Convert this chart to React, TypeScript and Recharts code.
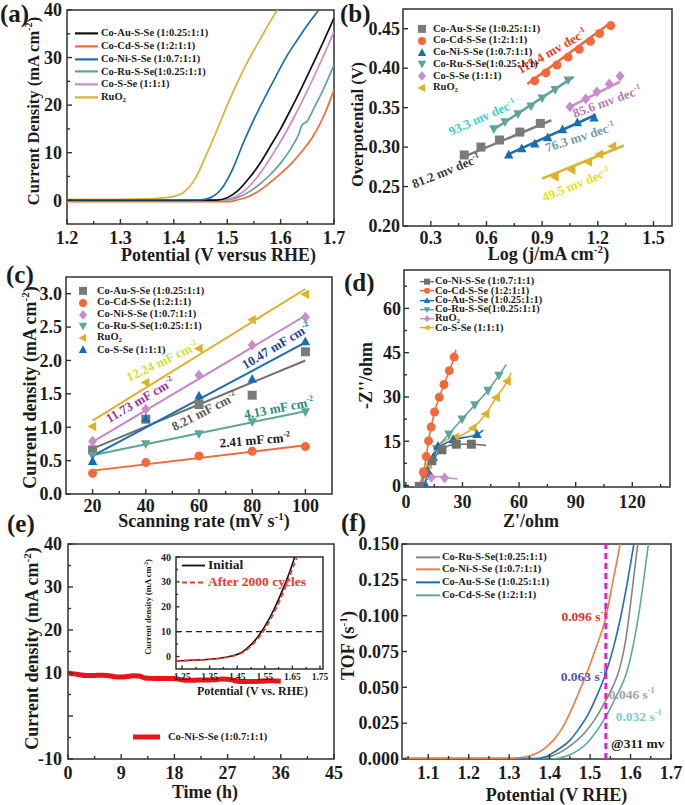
import React from 'react';
import { ComposedChart, Line, Scatter, XAxis, YAxis, ReferenceArea, ReferenceLine, ReferenceDot, Legend } from 'recharts';

const FONT = '"Liberation Serif", "Times New Roman", Times, serif';
const AXC = '#303030';
const TXT = '#1c1c1c';
const COL = {
  gold: '#dcb22a', blue: '#1b6db1', orange: '#f26a3b', teal: '#5ea597',
  pink: '#c98dcb', gray: '#7b7b7b', black: '#111111', red: '#e8151d',
};

// ---------------- (a) LSV ----------------
const aAuV = [1.2, 1.48, 1.5, 1.52, 1.54, 1.56, 1.58, 1.6, 1.62, 1.64, 1.66, 1.68, 1.7];
const aAuJ = [0, 0, 0.5, 2, 4.5, 7.5, 11.2, 15, 19.3, 23.8, 28.5, 33.3, 38.3];
const aCdV = [1.2, 1.5, 1.52, 1.54, 1.56, 1.58, 1.6, 1.62, 1.64, 1.66, 1.68, 1.69, 1.7];
const aCdJ = [-0.3, -0.3, 0.1, 0.8, 2, 3.7, 5.6, 7.7, 10.3, 13.3, 17.5, 20.2, 23.2];
const aNiV = [1.2, 1.45, 1.47, 1.49, 1.51, 1.53, 1.55, 1.57, 1.59, 1.61, 1.63, 1.65, 1.67, 1.69];
const aNiJ = [0.1, 0.1, 0.6, 2.5, 6.5, 12, 17, 21.5, 25.8, 30, 33.5, 36.8, 39.8, 43];
const aRuV = [1.2, 1.5, 1.52, 1.54, 1.56, 1.58, 1.6, 1.62, 1.635, 1.64, 1.65, 1.66, 1.68, 1.7];
const aRuJ = [0.1, 0.1, 0.6, 1.7, 3.3, 5.3, 7.8, 11, 14.2, 15.8, 16.6, 18.8, 23.3, 28.5];
const aSV = [1.2, 1.49, 1.51, 1.53, 1.55, 1.57, 1.59, 1.61, 1.63, 1.65, 1.67, 1.69, 1.7];
const aSJ = [0.1, 0.1, 0.5, 1.8, 4, 7, 10.5, 14.3, 18.5, 23, 27.8, 32.8, 35.5];
const aRuO2V = [1.2, 1.3, 1.35, 1.38, 1.4, 1.42, 1.44, 1.46, 1.48, 1.5, 1.52, 1.54, 1.56, 1.58, 1.6];
const aRuO2J = [0.2, 0.2, 0.3, 0.5, 0.8, 1.8, 4.5, 9.3, 14.5, 20, 25, 29.5, 33.5, 37.5, 41];
const aXMaj = [1.2, 1.3, 1.4, 1.5, 1.6, 1.7];
const aXMin = [1.25, 1.35, 1.45, 1.55, 1.65];
const aYMaj = [0, 10, 20, 30, 40];
const aYMin = [5, 15, 25, 35];

// ---------------- (b) Tafel ----------------
const bAuX = [0.48, 0.57, 0.67, 0.78, 0.89];
const bAuY = [0.29, 0.3, 0.309, 0.319, 0.33];
const bCdX = [0.86, 0.92, 0.98, 1.04, 1.1, 1.16, 1.21, 1.27];
const bCdY = [0.384, 0.394, 0.404, 0.414, 0.424, 0.434, 0.444, 0.454];
const bNiX = [0.72, 0.79, 0.86, 0.93, 1.01, 1.09, 1.18];
const bNiY = [0.29, 0.298, 0.304, 0.312, 0.322, 0.331, 0.337];
const bRuX = [0.64, 0.7, 0.77, 0.84, 0.9, 0.97, 1.04];
const bRuY = [0.323, 0.332, 0.342, 0.352, 0.362, 0.373, 0.385];
const bSX = [1.05, 1.135, 1.195, 1.262, 1.32];
const bSY = [0.351, 0.361, 0.37, 0.38, 0.39];
const bRuO2X = [0.97, 1.06, 1.15, 1.21, 1.28];
const bRuO2Y = [0.262, 0.271, 0.281, 0.291, 0.301];
const bFitAuX = [0.48, 0.95]; const bFitAuY = [0.288, 0.334];
const bFitCdX = [0.82, 1.27]; const bFitCdY = [0.38, 0.458];
const bFitNiX = [0.71, 1.19]; const bFitNiY = [0.29, 0.341];
const bFitRuX = [0.63, 1.07]; const bFitRuY = [0.321, 0.389];
const bFitSX = [1.05, 1.32]; const bFitSY = [0.351, 0.383];
const bFitRuO2X = [0.9, 1.34]; const bFitRuO2Y = [0.26, 0.302];
const bAnnText = ['115.4 mv dec', '93.3 mv dec', '85.6 mv dec', '76.3 mv dec', '81.2 mv dec', '49.5 mv dec'];
const bAnnX = [0.953, 0.576, 1.25, 1.104, 0.382, 1.083];
const bAnnY = [0.422, 0.338, 0.358, 0.313, 0.27, 0.253];
const bXMaj = [0.3, 0.6, 0.9, 1.2, 1.5];
const bXMin = [0.45, 0.75, 1.05, 1.35];
const bYMaj = [0.2, 0.25, 0.3, 0.35, 0.4, 0.45];

// ---------------- (c) Cdl ----------------
const cX = [20, 40, 60, 80, 100];
const cAu = [0.66, 1.12, 1.34, 1.48, 2.13];
const cCd = [0.31, 0.47, 0.57, 0.64, 0.71];
const cNi = [0.79, 1.27, 1.78, 2.23, 2.65];
const cRu = [0.57, 0.75, 0.9, 1.08, 1.23];
const cRuO2 = [1.01, 1.67, 2.18, 2.61, 2.99];
const cS = [0.49, 1.13, 1.47, 1.72, 2.28];
const cFitX = [20, 100];
const cFitAu = [0.68, 2.0];
const cFitCd = [0.35, 0.73];
const cFitNi = [0.78, 2.67];
const cFitRu = [0.58, 1.24];
const cFitRuO2 = [1.1, 3.07];
const cFitS = [0.57, 2.27];
const cAnnText = ['12.24 mF cm', '11.73 mF cm', '10.47 mF cm', '8.21 mF cm', '4.13 mF cm', '2.41 mF cm'];
const cAnnX = [46.1, 37.8, 89, 61.9, 90, 81];
const cAnnY = [1.99, 1.41, 2.22, 1.24, 1.29, 0.81];
const cXMaj = [20, 40, 60, 80, 100];
const cXMin = [30, 50, 70, 90];
const cYMaj = [0, 0.5, 1, 1.5, 2, 2.5, 3];

// ---------------- (d) Nyquist ----------------
const dNiLX = [7.1, 8.5, 10.2, 13.8, 19.1, 26.7, 34.7, 42.5];
const dNiLY = [-0.4, 2.2, 4.5, 8.4, 12.1, 14.0, 14.0, 13.6];
const dNiPX = [7.1, 10.2, 13.8, 19.1, 26.7, 34.7];
const dNiPY = [-0.3, 4.5, 8.4, 12.1, 14.0, 14.0];
const dCdLX = [7.2, 9.3, 10.8, 12.0, 13.4, 15.2, 17.7, 20.2, 23.0, 25.6, 26.5];
const dCdLY = [-0.4, 4.5, 9.8, 15.1, 19.8, 24.9, 29.9, 34.2, 38.9, 43.5, 46];
const dCdPX = [9.3, 10.8, 12.0, 13.4, 15.2, 17.7, 20.2, 23.0, 25.6];
const dCdPY = [4.5, 9.8, 15.1, 19.8, 24.9, 29.9, 34.2, 38.9, 43.5];
const dAuLX = [9, 10.5, 11.5, 14.5, 17, 21, 25.1, 31, 37.7, 41];
const dAuLY = [-0.4, 1.5, 5.0, 9.5, 12.5, 14.3, 15.5, 16.3, 17.3, 18.8];
const dAuPX = [10.5, 11.5, 14.5, 17.0, 25.1, 37.7];
const dAuPY = [0, 5.0, 9.5, 13.3, 15.5, 17.3];
const dRuLX = [8, 10, 12.5, 16.3, 22.8, 29.8, 36.5, 43.5, 49.3, 53.2];
const dRuLY = [-0.4, 3.5, 8, 12.4, 17.4, 22.5, 27.3, 32.2, 37.3, 41];
const dRuPX = [16.3, 22.8, 29.8, 36.5, 43.5, 49.3];
const dRuPY = [12.4, 17.4, 22.5, 27.3, 32.2, 37.3];
const dSLX = [8, 10, 12, 15, 20, 26.2, 31, 35.6, 42.3, 47.9, 53.7, 55.8];
const dSLY = [-0.4, 3.5, 7, 11.5, 15, 16.4, 17.5, 19.5, 24.2, 29.8, 35.3, 38.2];
const dSPX = [12, 26.2, 35.6, 42.3, 47.9, 53.7];
const dSPY = [7, 16.4, 19.5, 24.2, 29.8, 35.3];
const dRuO2LX = [7.5, 9.5, 12, 15, 18, 21, 25, 27.5];
const dRuO2LY = [-0.4, 1.2, 2.4, 3.0, 3.0, 2.7, 2.4, 2.3];
const dRuO2PX = [8.5, 13.5, 20.5];
const dRuO2PY = [0, 2.8, 2.6];
const dXMaj = [0, 30, 60, 90, 120];
const dXMin = [15, 45, 75, 105, 135];
const dYMaj = [0, 15, 30, 45, 60];
const dYMin = [7.5, 22.5, 37.5, 52.5, 67.5];

// ---------------- (e) stability ----------------
const eT = [0, 1, 2, 3, 4, 5, 6, 7, 8, 9, 10, 11, 12, 13, 14, 15, 16, 17, 18, 19, 20, 21, 22, 23, 24, 25, 26, 27, 28, 29, 30, 31, 32, 33, 34, 35, 36];
const eJ = [10, 9.8, 9.6, 9.4, 9.4, 9.45, 9.45, 9.35, 9.1, 9.05, 9.2, 9.35, 9.3, 8.85, 8.75, 8.7, 8.7, 8.75, 8.7, 8.5, 8.3, 8.3, 8.35, 8.35, 8.4, 8.45, 8.6, 8.55, 8.3, 8.05, 8.0, 8.0, 8.05, 8.1, 8.2, 8.15, 8.1];
const eXMaj = [0, 9, 18, 27, 36, 45];
const eXMin = [4.5, 13.5, 22.5, 31.5, 40.5];
const eYMaj = [-10, 0, 10, 20, 30, 40];
const eYMin = [-5, 5, 15, 25, 35];
const iInitV = [1.228, 1.3, 1.38, 1.43, 1.46, 1.48, 1.5, 1.52, 1.54, 1.56, 1.58, 1.6, 1.62, 1.64, 1.66];
const iInitJ = [-1.8, -1.4, -0.8, 0.2, 1.3, 2.8, 4.8, 7.3, 10.3, 14, 18.2, 23, 28.3, 34, 40.5];
const iAftV = [1.228, 1.3, 1.38, 1.43, 1.46, 1.48, 1.5, 1.52, 1.54, 1.56, 1.58, 1.6, 1.62, 1.64, 1.66, 1.675];
const iAftJ = [-1.8, -1.4, -0.8, 0.1, 1.1, 2.4, 4.2, 6.5, 9.3, 12.8, 16.8, 21.4, 26.5, 32, 38, 42];
const iXMaj = [1.25, 1.35, 1.45, 1.55, 1.65, 1.75];
const iXMin = [1.3, 1.4, 1.5, 1.6, 1.7];
const iYMaj = [0, 10, 20, 30, 40];
const iYMin = [5, 15, 25, 35];

// ---------------- (f) TOF ----------------
const fNiV = [1.035, 1.3, 1.335, 1.368, 1.39, 1.409, 1.43, 1.45, 1.47, 1.492, 1.515, 1.539, 1.557, 1.574, 1.582];
const fNiT = [0.0005, 0.0005, 0.0012, 0.004, 0.008, 0.013, 0.021, 0.032, 0.045, 0.06, 0.078, 0.099, 0.125, 0.15, 0.165];
const fAuV = [1.035, 1.36, 1.393, 1.42, 1.45, 1.472, 1.492, 1.515, 1.539, 1.557, 1.574, 1.59, 1.607, 1.615];
const fAuT = [0, 0, 0.002, 0.0065, 0.013, 0.021, 0.0295, 0.043, 0.06, 0.077, 0.097, 0.12, 0.148, 0.162];
const fRuV = [1.035, 1.37, 1.409, 1.45, 1.492, 1.515, 1.539, 1.557, 1.574, 1.588, 1.599, 1.608, 1.617, 1.625];
const fRuT = [0.0005, 0.0005, 0.0025, 0.009, 0.02, 0.029, 0.041, 0.051, 0.064, 0.083, 0.106, 0.127, 0.148, 0.165];
const fCdV = [1.035, 1.4, 1.45, 1.492, 1.515, 1.539, 1.565, 1.59, 1.607, 1.623, 1.634, 1.644, 1.65];
const fCdT = [0, 0, 0.003, 0.011, 0.019, 0.0295, 0.044, 0.06, 0.08, 0.106, 0.128, 0.15, 0.165];
const fMark = 1.539;
const fAnnText = ['0.096 s', '0.063 s', '0.046 s', '0.032 s', '@311 mv'];
const fAnnX = [1.486, 1.484, 1.603, 1.62, 1.618];
const fAnnY = [0.0998, 0.058, 0.0454, 0.03, 0.011];
const fXMaj = [1.1, 1.2, 1.3, 1.4, 1.5, 1.6, 1.7];
const fXMin = [1.05, 1.15, 1.25, 1.35, 1.45, 1.55, 1.65];
const fYMaj = [0, 0.025, 0.05, 0.075, 0.1, 0.125, 0.15];

// ---------------- helpers ----------------
const zip = (xs: number[], ys: number[]) => xs.map((x, i) => ({ x, y: ys[i] }));
const near = (v: number, arr: number[]) => arr.some((m) => Math.abs(m - v) < 1e-9);
const allTicks = (a: number[], b: number[]) => [...a, ...b].sort((p, q) => p - q);

function supText(parts: string[], fs: number) {
  const [a, s, b] = parts;
  const up = fs * 0.4;
  const out: any[] = [<tspan key="a">{a}</tspan>];
  if (s) out.push(<tspan key="s" dy={-up} fontSize={fs * 0.62}>{s}</tspan>);
  if (s && b !== undefined) out.push(<tspan key="b" dy={up}>{b}</tspan>);
  return out;
}

function XTk(props: any) {
  const { x, y, payload, cfg } = props;
  const v = payload ? payload.value : 0;
  const major = near(v, cfg.major);
  return (
    <g>
      <line x1={x} x2={x} y1={y} y2={y - (major ? cfg.len : cfg.mlen)} stroke={AXC} strokeWidth={1.4} />
      {major && !near(v, cfg.hide || []) ? (
        <text x={x} y={y + cfg.gap + cfg.fs * 0.35} textAnchor="middle" fontFamily={FONT} fontWeight="bold" fontSize={cfg.fs} fill={TXT}>
          {cfg.fmt(v)}
        </text>
      ) : null}
    </g>
  );
}

function YTk(props: any) {
  const { x, y, payload, cfg } = props;
  const v = payload ? payload.value : 0;
  const major = near(v, cfg.major);
  return (
    <g>
      <line x1={x} x2={x + (major ? cfg.len : cfg.mlen)} y1={y} y2={y} stroke={AXC} strokeWidth={1.4} />
      {major && !near(v, cfg.hide || []) ? (
        <text x={x - cfg.gap} y={y + cfg.fs * 0.35} textAnchor="end" fontFamily={FONT} fontWeight="bold" fontSize={cfg.fs} fill={TXT}>
          {cfg.fmt(v)}
        </text>
      ) : null}
    </g>
  );
}

const xTitle = (parts: string[], dx: number, dy: number, fs: number) => (p: any) => {
  const vb = p.viewBox || { x: 0, y: 0, width: 0, height: 0 };
  const cx = vb.x + vb.width / 2 + dx;
  const cy = vb.y + dy;
  return (
    <text x={cx} y={cy + fs * 0.35} textAnchor="middle" fontFamily={FONT} fontWeight="bold" fontSize={fs} fill={TXT}>
      {supText(parts, fs)}
    </text>
  );
};

const yTitle = (parts: string[], x: number, dy: number, fs: number) => (p: any) => {
  const vb = p.viewBox || { x: 0, y: 0, width: 0, height: 0 };
  const cy = vb.y + vb.height / 2 + dy;
  return (
    <text transform={`translate(${x},${cy}) rotate(-90)`} x={0} y={fs * 0.35} textAnchor="middle" fontFamily={FONT} fontWeight="bold" fontSize={fs} fill={TXT}>
      {supText(parts, fs)}
    </text>
  );
};

const annot = (parts: string[], color: string, angle: number, fs: number) => (p: any) => {
  const vb = p.viewBox || { x: 0, y: 0, width: 0, height: 0 };
  const cx = vb.x + (vb.width || 0) / 2;
  const cy = vb.y + (vb.height || 0) / 2;
  return (
    <text x={cx} y={cy + fs * 0.35} transform={`rotate(${angle} ${cx} ${cy})`} textAnchor="middle" fontFamily={FONT} fontWeight="bold" fontSize={fs} fill={color}>
      {supText(parts, fs)}
    </text>
  );
};

const mk = (kind: string, color: string, size: number) => (p: any) => {
  const cx = p.cx, cy = p.cy, s = size / 2;
  if (cx == null || cy == null) return <g />;
  switch (kind) {
    case 'sq': return <rect x={cx - s} y={cy - s} width={size} height={size} fill={color} />;
    case 'ci': return <circle cx={cx} cy={cy} r={s} fill={color} />;
    case 'tu': return <polygon points={`${cx},${cy - s * 1.15} ${cx + s * 1.05},${cy + s * 0.8} ${cx - s * 1.05},${cy + s * 0.8}`} fill={color} />;
    case 'td': return <polygon points={`${cx},${cy + s * 1.15} ${cx + s * 1.05},${cy - s * 0.8} ${cx - s * 1.05},${cy - s * 0.8}`} fill={color} />;
    case 'tl': return <polygon points={`${cx - s * 1.15},${cy} ${cx + s * 0.8},${cy - s * 1.05} ${cx + s * 0.8},${cy + s * 1.05}`} fill={color} />;
    default: return <polygon points={`${cx},${cy - s * 1.2} ${cx + s},${cy} ${cx},${cy + s * 1.2} ${cx - s},${cy}`} fill={color} />;
  }
};

function Leg({ items, o }: any) {
  return (
    <div style={{ fontFamily: FONT, fontWeight: 700, fontSize: o.fs, color: TXT }}>
      {items.map((it: any, i: number) => (
        <div key={i} style={{ display: 'flex', alignItems: 'center', height: o.rowH, whiteSpace: 'nowrap' }}>
          <svg width={o.sw} height={o.rowH} style={{ flex: 'none', overflow: 'visible' }}>
            {it.kind !== 'marker' ? (
              <line x1={0} x2={o.sw} y1={o.rowH / 2} y2={o.rowH / 2} stroke={it.color} strokeWidth={o.lw} strokeDasharray={it.dash} />
            ) : null}
            {it.kind !== 'line' ? mk(it.shape, it.color, o.mk)({ cx: o.sw / 2, cy: o.rowH / 2 }) : null}
          </svg>
          <span style={{ marginLeft: o.gap, color: it.tc || TXT, lineHeight: 1 }}>{it.label}</span>
        </div>
      ))}
    </div>
  );
}

const legendEl = (items: any[], o: any, left: number, top: number) => (
  <Legend
    layout="vertical"
    align="center"
    verticalAlign="middle"
    wrapperStyle={{ left, top, width: 'auto', height: 'auto' }}
    content={() => <Leg items={items} o={o} />}
  />
);

const sub2 = (t: string) => (<span>{t}<sub style={{ fontSize: '0.65em', verticalAlign: '-0.25em' }}>2</sub></span>);

const frame = (xd: number[], yd: number[]) => (
  <ReferenceArea x1={xd[0]} x2={xd[1]} y1={yd[0]} y2={yd[1]} fill="none" stroke={AXC} strokeWidth={1.5} ifOverflow="visible" />
);

const axisCommon = { type: 'number' as const, allowDataOverflow: true, interval: 0 as const, tickLine: false, axisLine: false, tickSize: 0, tickMargin: 0 };

// ---------------- panels ----------------
function PanelA() {
  const xd = [1.2, 1.7], yd = [-5, 40];
  const series = [
    { v: aRuO2V, j: aRuO2J, c: COL.gold },
    { v: aCdV, j: aCdJ, c: COL.orange },
    { v: aRuV, j: aRuJ, c: COL.teal },
    { v: aSV, j: aSJ, c: COL.pink },
    { v: aAuV, j: aAuJ, c: COL.black },
    { v: aNiV, j: aNiJ, c: COL.blue },
  ];
  const leg = [
    { label: 'Co-Au-S-Se (1:0.25:1:1)', color: COL.black, kind: 'line' },
    { label: 'Co-Cd-S-Se (1:2:1:1)', color: COL.orange, kind: 'line' },
    { label: 'Co-Ni-S-Se (1:0.7:1:1)', color: COL.blue, kind: 'line' },
    { label: 'Co-Ru-S-Se(1:0.25:1:1)', color: COL.teal, kind: 'line' },
    { label: 'Co-S-Se (1:1:1)', color: COL.pink, kind: 'line' },
    { label: sub2('RuO'), color: COL.gold, kind: 'line' },
  ];
  return (
    <ComposedChart width={345} height={272} margin={{ top: 10, right: 11, bottom: 0, left: 0 }}>
      <XAxis {...axisCommon} dataKey="x" domain={xd} ticks={allTicks(aXMaj, aXMin)} height={48}
        tick={<XTk cfg={{ major: aXMaj, fmt: (v: number) => v.toFixed(1), fs: 18, gap: 14, len: 5, mlen: 3 }} />}
        label={xTitle(['Potential (V versus RHE)'], 18, 31, 18)} />
      <YAxis {...axisCommon} dataKey="y" domain={yd} ticks={allTicks(aYMaj, aYMin)} width={67}
        tick={<YTk cfg={{ major: aYMaj, fmt: (v: number) => String(v), fs: 18, gap: 5, len: 5, mlen: 3 }} />}
        label={yTitle(['Current Density (mA cm', '-2', ')'], 33, -6, 16.5)} />
      {frame(xd, yd)}
      {series.map((s, i) => (
        <Line key={i} data={zip(s.v, s.j)} dataKey="y" type="monotone" stroke={s.c} strokeWidth={1.7} dot={false} isAnimationActive={false} />
      ))}
      {legendEl(leg, { fs: 10.5, rowH: 12.8, sw: 23, lw: 2.2, gap: 3 }, 75, 27)}
    </ComposedChart>
  );
}

function PanelB() {
  const xd = [0.15, 1.6], yd = [0.2, 0.475];
  const pts = [
    { x: bAuX, y: bAuY, c: COL.gray, s: 'sq', fx: bFitAuX, fy: bFitAuY },
    { x: bCdX, y: bCdY, c: COL.orange, s: 'ci', fx: bFitCdX, fy: bFitCdY },
    { x: bNiX, y: bNiY, c: COL.blue, s: 'tu', fx: bFitNiX, fy: bFitNiY },
    { x: bRuX, y: bRuY, c: COL.teal, s: 'td', fx: bFitRuX, fy: bFitRuY },
    { x: bSX, y: bSY, c: COL.pink, s: 'di', fx: bFitSX, fy: bFitSY },
    { x: bRuO2X, y: bRuO2Y, c: COL.gold, s: 'tl', fx: bFitRuO2X, fy: bFitRuO2Y },
  ];
  const annC = ['#f03a24', '#3fcfd6', '#b67bb6', '#6f9fa6', '#3a3a3a', '#e3e01c'];
  const annA = [-30, -24, -20, -18, -22, -22];
  const leg = [
    { label: 'Co-Au-S-Se (1:0.25:1:1)', color: COL.gray, kind: 'marker', shape: 'sq' },
    { label: 'Co-Cd-S-Se (1:2:1:1)', color: COL.orange, kind: 'marker', shape: 'ci' },
    { label: 'Co-Ni-S-Se (1:0.7:1:1)', color: COL.blue, kind: 'marker', shape: 'tu' },
    { label: 'Co-Ru-S-Se(1:0.25:1:1)', color: COL.teal, kind: 'marker', shape: 'td' },
    { label: 'Co-S-Se (1:1:1)', color: COL.pink, kind: 'marker', shape: 'di' },
    { label: sub2('RuO'), color: COL.gold, kind: 'marker', shape: 'tl' },
  ];
  return (
    <ComposedChart width={355} height={272} margin={{ top: 9, right: 13, bottom: 0, left: 0 }}>
      <XAxis {...axisCommon} dataKey="x" domain={xd} ticks={allTicks(bXMaj, bXMin)} height={46}
        tick={<XTk cfg={{ major: bXMaj, fmt: (v: number) => v.toFixed(1), fs: 18, gap: 12, len: 5, mlen: 3 }} />}
        label={xTitle(['Log (j/mA cm', '-2', ')'], 11, 28, 18)} />
      <YAxis {...axisCommon} dataKey="y" domain={yd} ticks={bYMaj} width={73}
        tick={<YTk cfg={{ major: bYMaj, fmt: (v: number) => v.toFixed(2), fs: 18, gap: 3, len: 5, mlen: 3 }} />}
        label={yTitle(['Overpotential (V)'], 27, 7, 16.5)} />
      {frame(xd, yd)}
      {pts.map((s, i) => (
        <Line key={'l' + i} data={zip(s.fx, s.fy)} dataKey="y" type="linear" stroke={s.c} strokeWidth={2.5} dot={false} isAnimationActive={false} />
      ))}
      {pts.map((s, i) => (
        <Scatter key={'s' + i} data={zip(s.x, s.y)} shape={mk(s.s, s.c, 9)} isAnimationActive={false} />
      ))}
      {bAnnText.map((t, i) => (
        <ReferenceDot key={'a' + i} x={bAnnX[i]} y={bAnnY[i]} r={1} fill="none" stroke="none" ifOverflow="visible"
          label={annot([t, '-1'], annC[i], annA[i], 13)} />
      ))}
      {legendEl(leg, { fs: 10.5, rowH: 11.8, sw: 12, mk: 8, lw: 2, gap: 5 }, 86, 23)}
    </ComposedChart>
  );
}

function PanelC() {
  const xd = [10, 110], yd = [0, 3.25];
  const pts = [
    { y: cAu, c: COL.gray, s: 'sq', f: cFitAu, lc: '#6e6e6e' },
    { y: cCd, c: COL.orange, s: 'ci', f: cFitCd, lc: COL.orange },
    { y: cNi, c: COL.pink, s: 'di', f: cFitNi, lc: '#c48ac6' },
    { y: cRu, c: COL.teal, s: 'td', f: cFitRu, lc: COL.teal },
    { y: cRuO2, c: COL.gold, s: 'tl', f: cFitRuO2, lc: COL.gold },
    { y: cS, c: COL.blue, s: 'tu', f: cFitS, lc: COL.blue },
  ];
  const annC = ['#cfe02a', '#a3319f', '#1b3f9e', '#5a5a5a', '#2b8a7b', '#1a1a1a'];
  const annA = [-25.5, -30.6, -31, -27, -11, -5];
  const leg = [
    { label: 'Co-Au-S-Se (1:0.25:1:1)', color: COL.gray, kind: 'marker', shape: 'sq' },
    { label: 'Co-Cd-S-Se (1:2:1:1)', color: COL.orange, kind: 'marker', shape: 'ci' },
    { label: 'Co-Ni-S-Se (1:0.7:1:1)', color: COL.pink, kind: 'marker', shape: 'di' },
    { label: 'Co-Ru-S-Se(1:0.25:1:1)', color: COL.teal, kind: 'marker', shape: 'td' },
    { label: sub2('RuO'), color: COL.gold, kind: 'marker', shape: 'tl' },
    { label: 'Co-S-Se (1:1:1)', color: COL.blue, kind: 'marker', shape: 'tu' },
  ];
  return (
    <ComposedChart width={345} height={270} margin={{ top: 12, right: 13, bottom: 0, left: 0 }}>
      <XAxis {...axisCommon} dataKey="x" domain={xd} ticks={allTicks(cXMaj, cXMin)} height={41}
        tick={<XTk cfg={{ major: cXMaj, fmt: (v: number) => String(v), fs: 18, gap: 12, len: 5, mlen: 3 }} />}
        label={xTitle(['Scanning rate (mV s', '-1', ')'], 5, 27, 18)} />
      <YAxis {...axisCommon} dataKey="y" domain={yd} ticks={cYMaj} width={66}
        tick={<YTk cfg={{ major: cYMaj, fmt: (v: number) => v.toFixed(1), fs: 18, gap: 4, len: 5, mlen: 3 }} />}
        label={yTitle(['Current density (mA cm', '-2', ')'], 30, 2, 18)} />
      {frame(xd, yd)}
      {pts.map((s, i) => (
        <Line key={'l' + i} data={zip(cFitX, s.f)} dataKey="y" type="linear" stroke={s.lc} strokeWidth={2} dot={false} isAnimationActive={false} />
      ))}
      {pts.map((s, i) => (
        <Scatter key={'s' + i} data={zip(cX, s.y)} shape={mk(s.s, s.c, 9)} isAnimationActive={false} />
      ))}
      {cAnnText.map((t, i) => (
        <ReferenceDot key={'a' + i} x={cAnnX[i]} y={cAnnY[i]} r={1} fill="none" stroke="none" ifOverflow="visible"
          label={annot([t, '-2'], annC[i], annA[i], 13)} />
      ))}
      {legendEl(leg, { fs: 10.5, rowH: 11.8, sw: 12, mk: 8, lw: 2, gap: 8 }, 77, 20)}
    </ComposedChart>
  );
}

function PanelD() {
  const xd = [-1, 140], yd = [-0.5, 73];
  const sers = [
    { lx: dRuO2LX, ly: dRuO2LY, px: dRuO2PX, py: dRuO2PY, c: COL.pink, s: 'di' },
    { lx: dSLX, ly: dSLY, px: dSPX, py: dSPY, c: COL.gold, s: 'tl' },
    { lx: dRuLX, ly: dRuLY, px: dRuPX, py: dRuPY, c: COL.teal, s: 'td' },
    { lx: dAuLX, ly: dAuLY, px: dAuPX, py: dAuPY, c: COL.blue, s: 'tu' },
    { lx: dNiLX, ly: dNiLY, px: dNiPX, py: dNiPY, c: '#707070', s: 'sq' },
    { lx: dCdLX, ly: dCdLY, px: dCdPX, py: dCdPY, c: COL.orange, s: 'ci' },
  ];
  const leg = [
    { label: 'Co-Ni-S-Se (1:0.7:1:1)', color: '#707070', kind: 'both', shape: 'sq' },
    { label: 'Co-Cd-S-Se (1:2:1:1)', color: COL.orange, kind: 'both', shape: 'ci' },
    { label: 'Co-Au-S-Se (1:0.25:1:1)', color: COL.blue, kind: 'both', shape: 'tu' },
    { label: 'Co-Ru-S-Se(1:0.25:1:1)', color: COL.teal, kind: 'both', shape: 'td' },
    { label: sub2('RuO'), color: COL.pink, kind: 'both', shape: 'di' },
    { label: 'Co-S-Se (1:1:1)', color: COL.gold, kind: 'both', shape: 'tl' },
  ];
  return (
    <ComposedChart width={355} height={270} margin={{ top: 5, right: 15, bottom: 0, left: 0 }}>
      <XAxis {...axisCommon} dataKey="x" domain={xd} ticks={allTicks(dXMaj, dXMin)} height={48}
        tick={<XTk cfg={{ major: dXMaj, fmt: (v: number) => String(v), fs: 18, gap: 15, len: 5, mlen: 3 }} />}
        label={xTitle(["Z'/ohm"], -6, 34, 18)} />
      <YAxis {...axisCommon} dataKey="y" domain={yd} ticks={allTicks(dYMaj, dYMin)} width={74}
        tick={<YTk cfg={{ major: dYMaj, fmt: (v: number) => String(v), fs: 18, gap: 3, len: 5, mlen: 3 }} />}
        label={yTitle(["-Z''/ohm"], 36, -3, 18)} />
      {frame(xd, yd)}
      {sers.map((s, i) => (
        <Line key={'l' + i} data={zip(s.lx, s.ly)} dataKey="y" type="monotone" stroke={s.c} strokeWidth={1.6} dot={false} isAnimationActive={false} />
      ))}
      {sers.map((s, i) => (
        <Scatter key={'s' + i} data={zip(s.px, s.py)} shape={mk(s.s, s.c, 9)} isAnimationActive={false} />
      ))}
      {legendEl(leg, { fs: 10.5, rowH: 9.3, sw: 14, mk: 6, lw: 1.5, gap: 1 }, 90, 12)}
    </ComposedChart>
  );
}

function PanelE() {
  const xd = [0, 45], yd = [-10, 40];
  const leg = [{ label: 'Co-Ni-S-Se (1:0.7:1:1)', color: COL.red, kind: 'line' }];
  return (
    <ComposedChart width={345} height={285} margin={{ top: 24, right: 11, bottom: 0, left: 0 }}>
      <XAxis {...axisCommon} dataKey="x" domain={xd} ticks={allTicks(eXMaj, eXMin)} height={46}
        tick={<XTk cfg={{ major: eXMaj, fmt: (v: number) => String(v), fs: 18, gap: 14, len: 5, mlen: 3 }} />}
        label={xTitle(['Time (h)'], 4, 33, 18)} />
      <YAxis {...axisCommon} dataKey="y" domain={yd} ticks={allTicks(eYMaj, eYMin)} width={68}
        tick={<YTk cfg={{ major: eYMaj, fmt: (v: number) => String(v), fs: 18, gap: 6, len: 5, mlen: 3, hide: [0] }} />}
        label={yTitle(['Current density (mA cm', '-2', ')'], 32, -3, 18)} />
      {frame(xd, yd)}
      <Line data={zip(eT, eJ)} dataKey="y" type="monotone" stroke={COL.red} strokeWidth={5} dot={false} isAnimationActive={false} />
      {legendEl(leg, { fs: 10.5, rowH: 14, sw: 27, lw: 5, gap: 8 }, 133, 210)}
    </ComposedChart>
  );
}

function Inset() {
  const xd = [1.228, 1.761], yd = [-5, 40];
  const leg = [
    { label: 'Initial', color: '#111', kind: 'line' },
    { label: 'After 2000 cycles', color: '#f03a2a', kind: 'line', dash: '5 3', tc: '#f03a2a' },
  ];
  return (
    <ComposedChart width={195} height={150} margin={{ top: 9, right: 7, bottom: 0, left: 0 }}>
      <XAxis {...axisCommon} dataKey="x" domain={xd} ticks={allTicks(iXMaj, iXMin)} height={29}
        tick={<XTk cfg={{ major: iXMaj, fmt: (v: number) => v.toFixed(2), fs: 9.5, gap: 8, len: 3.5, mlen: 2 }} />}
        label={xTitle(['Potential (V vs. RHE)'], 3, 22, 12)} />
      <YAxis {...axisCommon} dataKey="y" domain={yd} ticks={allTicks(iYMaj, iYMin)} width={41}
        tick={<YTk cfg={{ major: iYMaj, fmt: (v: number) => String(v), fs: 10, gap: 5, len: 3.5, mlen: 2 }} />}
        label={yTitle(['Current density (mA cm', '-2', ')'], 13, -6, 8.5)} />
      {frame(xd, yd)}
      <ReferenceLine y={10} stroke="#222" strokeWidth={1.2} strokeDasharray="6 4" />
      <Line data={zip(iInitV, iInitJ)} dataKey="y" type="monotone" stroke="#111" strokeWidth={1.6} dot={false} isAnimationActive={false} />
      <Line data={zip(iAftV, iAftJ)} dataKey="y" type="monotone" stroke="#f03a2a" strokeWidth={1.6} strokeDasharray="5 3" dot={false} isAnimationActive={false} />
      {legendEl(leg, { fs: 13.5, rowH: 17, sw: 23, lw: 1.8, gap: 3 }, 47, 8.5)}
    </ComposedChart>
  );
}

function PanelF() {
  const xd = [1.035, 1.7], yd = [0, 0.15];
  const series = [
    { v: fCdV, t: fCdT, c: '#5fa99b' },
    { v: fRuV, t: fRuT, c: '#858585' },
    { v: fAuV, t: fAuT, c: '#1f6fb5' },
    { v: fNiV, t: fNiT, c: '#f37a3f' },
  ];
  const annC = ['#e8302a', '#4a58b8', '#a3a3a3', '#76d3c3', '#1a1a1a'];
  const leg = [
    { label: 'Co-Ru-S-Se(1:0.25:1:1)', color: '#858585', kind: 'line' },
    { label: 'Co-Ni-S-Se (1:0.7:1:1)', color: '#f37a3f', kind: 'line' },
    { label: 'Co-Au-S-Se (1:0.25:1:1)', color: '#1f6fb5', kind: 'line' },
    { label: 'Co-Cd-S-Se (1:2:1:1)', color: '#5fa99b', kind: 'line' },
  ];
  return (
    <ComposedChart width={355} height={285} margin={{ top: 24, right: 14, bottom: 0, left: 0 }}>
      <XAxis {...axisCommon} dataKey="x" domain={xd} ticks={allTicks(fXMaj, fXMin)} height={46}
        tick={<XTk cfg={{ major: fXMaj, fmt: (v: number) => v.toFixed(1), fs: 18, gap: 14, len: 5, mlen: 3 }} />}
        label={xTitle(['Potential (V RHE)'], 20, 36, 18)} />
      <YAxis {...axisCommon} dataKey="y" domain={yd} ticks={fYMaj} width={72}
        tick={<YTk cfg={{ major: fYMaj, fmt: (v: number) => v.toFixed(3), fs: 18, gap: 3, len: 5, mlen: 3 }} />}
        label={yTitle(['TOF (s', '-1', ')'], 18, -6, 18)} />
      {frame(xd, yd)}
      {series.map((s, i) => (
        <Line key={i} data={zip(s.v, s.t)} dataKey="y" type="monotone" stroke={s.c} strokeWidth={1.6} dot={false} isAnimationActive={false} />
      ))}
      <ReferenceLine x={fMark} stroke="#e41fd0" strokeWidth={3} strokeDasharray="6 4" />
      {fAnnText.map((t, i) => (
        <ReferenceDot key={'a' + i} x={fAnnX[i]} y={fAnnY[i]} r={1} fill="none" stroke="none" ifOverflow="visible"
          label={annot(i < 4 ? [t, '-1'] : [t], annC[i], 0, 13.5)} />
      ))}
      {legendEl(leg, { fs: 10.5, rowH: 12.7, sw: 24, lw: 2, gap: 2 }, 86, 30.7)}
    </ComposedChart>
  );
}

const panelLabel = (t: string, left: number, top: number) => (
  <div style={{ position: 'absolute', left, top, fontFamily: FONT, fontWeight: 700, fontSize: 25, lineHeight: 1, color: TXT }}>{t}</div>
);

export default function App() {
  return (
    <div style={{ position: 'absolute', left: 0, top: 0, width: 685, height: 805, background: '#fff', overflow: 'hidden' }}>
      <div style={{ position: 'absolute', left: 0, top: 0 }}><PanelA /></div>
      <div style={{ position: 'absolute', left: 330, top: 0 }}><PanelB /></div>
      <div style={{ position: 'absolute', left: 0, top: 265 }}><PanelC /></div>
      <div style={{ position: 'absolute', left: 330, top: 265 }}><PanelD /></div>
      <div style={{ position: 'absolute', left: 0, top: 520 }}><PanelE /></div>
      <div style={{ position: 'absolute', left: 330, top: 520 }}><PanelF /></div>
      <div style={{ position: 'absolute', left: 135, top: 548 }}><Inset /></div>
      {panelLabel('(a)', 0, 1)}
      {panelLabel('(b)', 340, 1)}
      {panelLabel('(c)', 6, 262)}
      {panelLabel('(d)', 344, 270)}
      {panelLabel('(e)', 7, 511)}
      {panelLabel('(f)', 341, 510)}
    </div>
  );
}
